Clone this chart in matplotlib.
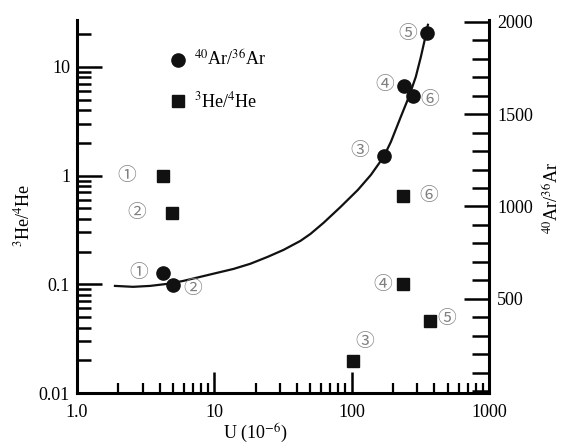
import numpy as np
import matplotlib
matplotlib.use('Agg')
import matplotlib.pyplot as plt
from matplotlib.ticker import LogLocator, MultipleLocator, NullFormatter

plt.rcParams['font.family'] = 'Liberation Serif'
plt.rcParams['mathtext.fontset'] = 'stix'
plt.rcParams['font.size'] = 13

# sample numbers
sample_ids = ['①', '②', '③', '④', '⑤', '⑥']

# 40Ar/36Ar (right axis)
u_ar = [4.2, 5.0, 171, 240, 352, 279]
ar_ratio = [641, 576, 1271, 1651, 1939, 1597]

# 3He/4He (left axis)
u_he = [4.2, 4.9, 103, 235, 371, 235]
he_ratio = [1.0, 0.455, 0.0197, 0.1, 0.046, 0.65]

# trend curve
curve_u = [1.89, 2.56, 3.41, 4.54, 5.94, 7.9, 10.5, 13.8, 18.3, 24.4, 31.9,
           42.4, 50.2, 62.5, 83.1, 111, 138, 171, 193, 228, 261, 293, 319, 347, 359]
curve_ar = [570, 565, 570, 581, 597, 619, 641, 662, 690, 727, 765,
            814, 852, 912, 998, 1090, 1171, 1269, 1350, 1486, 1594, 1702, 1810, 1930, 1984]

# label offsets (points)
ar_offsets = [(-17, 0), (14, -3), (-17, 4), (-14, 1), (-14, 0), (12, -2)]
he_offsets = [(-26, 0), (-25, 0), (8, 14), (-14, 0), (12, 2), (19, 0)]

fig = plt.figure(figsize=(5.63, 4.45), dpi=100)
ax = fig.add_axes([77/563, 1 - 393/445, (489 - 77)/563, (393 - 20)/445])
ax2 = ax.twinx()

ax.set_xscale('log')
ax.set_yscale('log')
ax.set_xlim(1, 1000)
ax.set_ylim(0.01, 27)
ax2.set_ylim(-10, 2010)

# squares: 3He/4He
sq, = ax.plot(u_he, he_ratio, 's', color='#111111', markersize=8.5, linestyle='none',
              label=r'$^{3}$He/$^{4}$He')
# circles + curve: 40Ar/36Ar
ax2.plot(curve_u, curve_ar, color='#111111', lw=1.6, solid_joinstyle='round')
ci, = ax2.plot(u_ar, ar_ratio, 'o', color='#111111', markersize=9.5, linestyle='none',
               label=r'$^{40}$Ar/$^{36}$Ar')

circ_font = ['Noto Sans CJK SC', 'DejaVu Sans']
for u, v, s, off in zip(u_he, he_ratio, sample_ids, he_offsets):
    ax.annotate(s, (u, v), xytext=off, textcoords='offset points', ha='center', va='center',
                fontsize=13.5, color='#808080', family=circ_font)
for u, v, s, off in zip(u_ar, ar_ratio, sample_ids, ar_offsets):
    ax2.annotate(s, (u, v), xytext=off, textcoords='offset points', ha='center', va='center',
                 fontsize=13.5, color='#808080', family=circ_font)

# spines
for a in (ax, ax2):
    a.spines['top'].set_visible(False)
ax.spines['right'].set_visible(False)
ax2.spines['left'].set_visible(False)
ax2.spines['bottom'].set_visible(False)
for sp in ('left', 'bottom'):
    ax.spines[sp].set_linewidth(2.2)
ax2.spines['right'].set_linewidth(2.2)

# ticks
ax.set_xticks([1, 10, 100, 1000])
ax.set_xticklabels(['1.0', '10', '100', '1000'])
ax.set_yticks([0.01, 0.1, 1, 10])
ax.set_yticklabels(['0.01', '0.1', '1', '10'])
ax.xaxis.set_minor_locator(LogLocator(base=10, subs=np.arange(2, 10)))
ax.yaxis.set_minor_locator(LogLocator(base=10, subs=np.arange(2, 10)))
ax.xaxis.set_minor_formatter(NullFormatter())
ax.yaxis.set_minor_formatter(NullFormatter())
ax.tick_params(axis='x', which='major', direction='in', length=15, width=1.8, pad=8, top=False)
ax.tick_params(axis='x', which='minor', direction='in', length=7, width=1.6, top=False)
ax.tick_params(axis='y', which='major', direction='in', length=18, width=1.8, pad=5, right=False)
ax.tick_params(axis='y', which='minor', direction='in', length=10, width=1.8, right=False)

ax2.set_yticks([500, 1000, 1500, 2000])
ax2.yaxis.set_minor_locator(MultipleLocator(100))
ax2.tick_params(axis='y', which='major', direction='in', length=18, width=1.8, pad=6)
ax2.tick_params(axis='y', which='minor', direction='in', length=12, width=1.8)

# labels
fig.text(255/563, 1 - 433/445, r'U (10$^{-6}$)', ha='center', va='center', fontsize=13)
fig.text(23/563, 1 - 215/445, r'$^{3}$He/$^{4}$He', ha='center', va='center',
         rotation=90, fontsize=13)
fig.text(553/563, 1 - 198/445, r'$^{40}$Ar/$^{36}$Ar', ha='center', va='center',
         rotation=90, fontsize=13)

fig.legend(handles=[ci, sq], loc='upper left', bbox_to_anchor=(169/563, 1 - 50/445),
           frameon=False, borderpad=0, borderaxespad=0, handlelength=1.0,
           handletextpad=0.4, labelspacing=1.2, fontsize=13, numpoints=1)

fig.savefig('out.png', dpi=100)
